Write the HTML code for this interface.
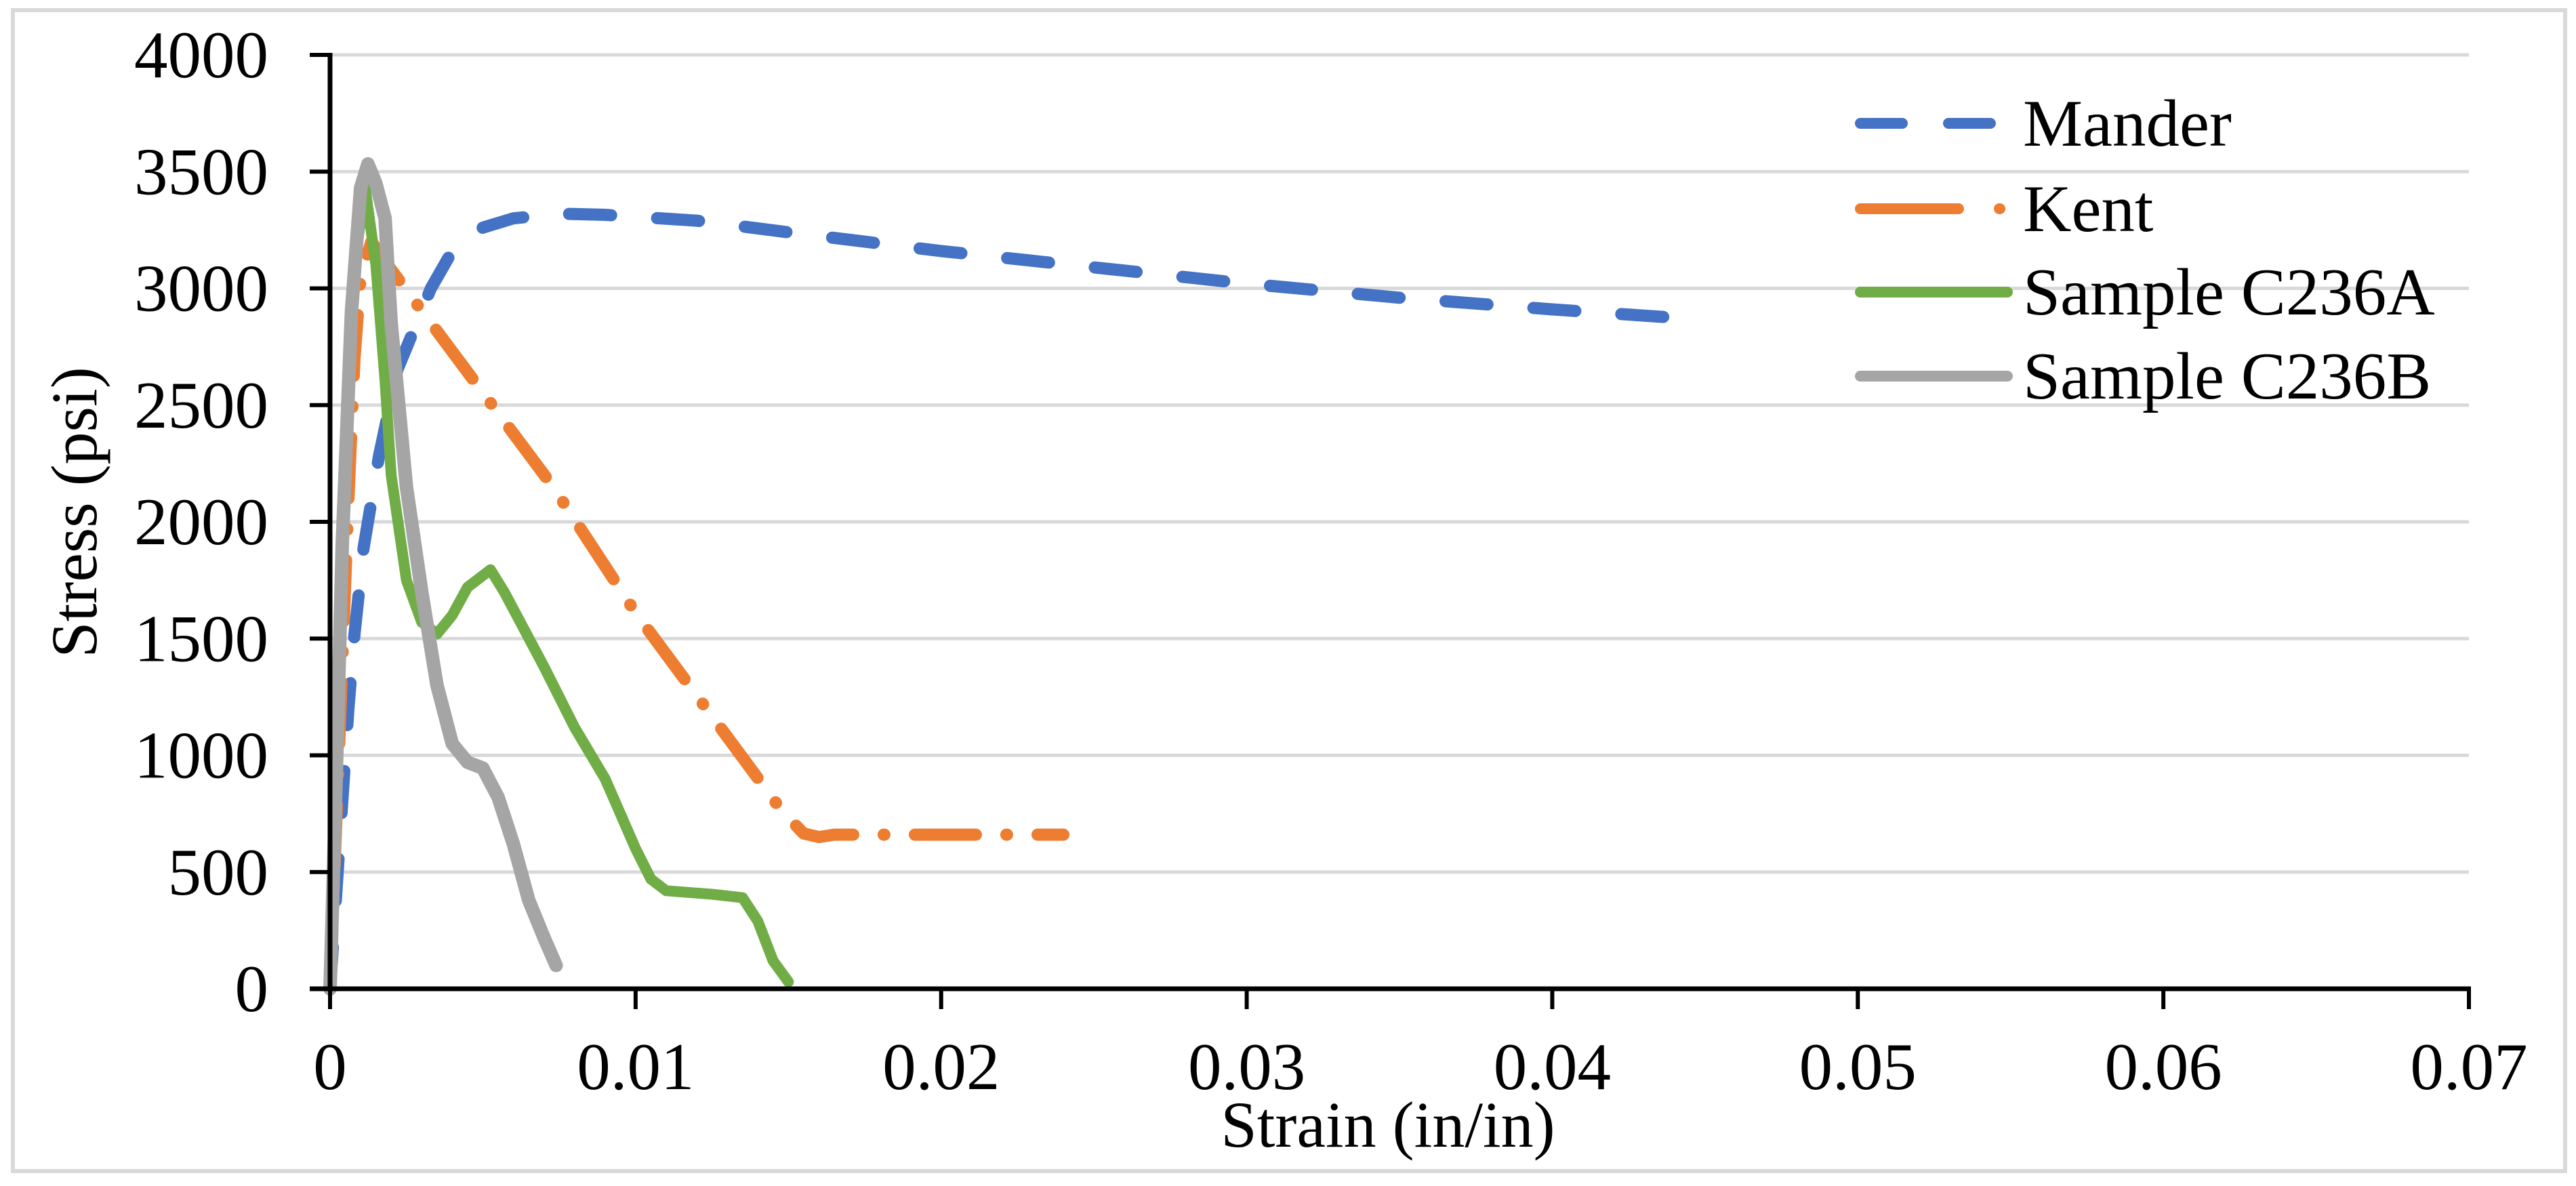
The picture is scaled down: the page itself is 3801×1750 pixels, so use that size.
<!DOCTYPE html>
<html><head><meta charset="utf-8">
<style>
html,body{margin:0;padding:0;background:#fff;}
svg{display:block;}
text{font-family:"Liberation Serif","Times New Roman",serif;fill:#000;}
</style></head>
<body>
<svg id="chart" width="3801" height="1750" viewBox="0 0 3801 1750" xmlns="http://www.w3.org/2000/svg">
<rect x="19" y="15" width="3766" height="1713" fill="#fff" stroke="#d9d9d9" stroke-width="6"/>
<g id="grid"></g>
<g id="series"></g>
<g id="axes"></g>
<text x="2048" y="1692" font-size="96" text-anchor="middle">Strain (in/in)</text>
<text transform="translate(142,756) rotate(-90)" font-size="96" text-anchor="middle">Stress (psi)</text>
<g id="legend"></g>
</svg>
<script>
const xTicks = [0, 0.01, 0.02, 0.03, 0.04, 0.05, 0.06, 0.07];
const xTickLabels = ["0", "0.01", "0.02", "0.03", "0.04", "0.05", "0.06", "0.07"];
const yTicks = [0, 500, 1000, 1500, 2000, 2500, 3000, 3500, 4000];
const yTickLabels = ["0", "500", "1000", "1500", "2000", "2500", "3000", "3500", "4000"];

const manderStrain = [0, 0.0003, 0.0006, 0.0008, 0.0011, 0.0016, 0.0022, 0.0033, 0.004, 0.005, 0.006, 0.0075, 0.009, 0.012, 0.015, 0.02, 0.025, 0.03, 0.035, 0.04, 0.0445];
const manderStress = [0, 600, 1200, 1520, 1890, 2280, 2650, 3000, 3160, 3260, 3300, 3320, 3315, 3290, 3240, 3160, 3090, 3020, 2960, 2910, 2870];

const kentStrain = [0, 0.0002, 0.0004, 0.0006, 0.0008, 0.001, 0.00135, 0.002, 0.0073, 0.01, 0.0148, 0.0155, 0.016, 0.0165, 0.024];
const kentStress = [0, 700, 1400, 2100, 2700, 3050, 3200, 3080, 2150, 1610, 760, 665, 650, 660, 660];

const sampleAStrain = [0, 0.0002, 0.0005, 0.0008, 0.00115, 0.0015, 0.0018, 0.002, 0.0025, 0.003, 0.0035, 0.004, 0.0045, 0.00525, 0.0057, 0.007, 0.008, 0.009, 0.01, 0.0105, 0.011, 0.0125, 0.0135, 0.014, 0.0145, 0.015];
const sampleAStress = [0, 1000, 2200, 3100, 3430, 3100, 2600, 2200, 1750, 1570, 1520, 1600, 1720, 1795, 1700, 1380, 1120, 900, 600, 470, 420, 405, 390, 290, 120, 30];

const sampleBStrain = [0, 0.0002, 0.0004, 0.0007, 0.001, 0.00124, 0.0015, 0.0018, 0.002, 0.0025, 0.003, 0.0035, 0.004, 0.0045, 0.005, 0.0055, 0.006, 0.0065, 0.007, 0.0074];
const sampleBStress = [0, 900, 1900, 2900, 3430, 3533, 3450, 3300, 2850, 2150, 1700, 1300, 1050, 970, 945, 820, 620, 380, 220, 100];

const X0 = 487, X1 = 3643, Y0 = 1459, Y1 = 81;
function xScale(v){ return X0 + v / 0.07 * (X1 - X0); }
function yScale(v){ return Y0 - v / 4000 * (Y0 - Y1); }
const NS = "http://www.w3.org/2000/svg";
function mk(tag, attrs, parent){ const e = document.createElementNS(NS, tag); for (const k in attrs) e.setAttribute(k, attrs[k]); parent.appendChild(e); return e; }

const grid = document.getElementById('grid');
const axes = document.getElementById('axes');
yTicks.forEach((t, i) => {
  if (t > 0) {
    const g = mk('line', {x1: X0, x2: X1, y1: yScale(t), y2: yScale(t), stroke: '#d9d9d9', 'stroke-width': 5}, grid);
    
    
  }
  const tk = mk('line', {x1: X0 - 30, x2: X0, y1: yScale(t), y2: yScale(t), stroke: '#000', 'stroke-width': 6}, axes);
  
  
  const lb = mk('text', {x: 396, y: yScale(t) + 33, 'font-size': 99, 'text-anchor': 'end'}, axes);
  lb.textContent = yTickLabels[i];
  
  
});
xTicks.forEach((t, i) => {
  const tk = mk('line', {x1: xScale(t), x2: xScale(t), y1: Y0, y2: Y0 + 30, stroke: '#000', 'stroke-width': 6}, axes);
  
  
  const lb = mk('text', {x: xScale(t), y: 1607, 'font-size': 99, 'text-anchor': 'middle'}, axes);
  lb.textContent = xTickLabels[i];
  
  
});
const ya = mk('line', {x1: X0, x2: X0, y1: Y1 - 3, y2: Y0 + 3, stroke: '#000', 'stroke-width': 7}, axes);


const xa = mk('line', {x1: X0 - 30, x2: X1 + 3, y1: Y0, y2: Y0, stroke: '#000', 'stroke-width': 7}, axes);



const seriesG = document.getElementById('series');
const series = [
  {name: 'mander', label: 'Mander', xs: manderStrain, ys: manderStress, color: '#4472c4', w: 18, dash: '62 68'},
  {name: 'kent', label: 'Kent', xs: kentStrain, ys: kentStress, color: '#ed7d31', w: 18, dash: '90 45 1 45'},
  {name: 'sample-c236a', label: 'Sample C236A', xs: sampleAStrain, ys: sampleAStress, color: '#70ad47', w: 16, dash: ''},
  {name: 'sample-c236b', label: 'Sample C236B', xs: sampleBStrain, ys: sampleBStress, color: '#a5a5a5', w: 20, dash: ''}
];
const drawOrder = [0, 1, 2, 3];
drawOrder.forEach(i => {
  const s = series[i];
  const d = s.xs.map((x, j) => (j ? 'L' : 'M') + xScale(x).toFixed(1) + ',' + yScale(s.ys[j]).toFixed(1)).join(' ');
  const p = mk('path', {d: d, fill: 'none', stroke: s.color, 'stroke-width': s.w, 'stroke-linecap': 'round', 'stroke-linejoin': 'round'}, seriesG);
  if (s.dash) p.setAttribute('stroke-dasharray', s.dash);
  
  
});

const legend = document.getElementById('legend');
const legY = [182, 308, 431, 555];
series.forEach((s, i) => {
  const y = legY[i];
  const ln = mk('line', {x1: 2745, x2: 2962, y1: y, y2: y, stroke: s.color, 'stroke-width': 16, 'stroke-linecap': 'round'}, legend);
  if (s.name === 'mander') ln.setAttribute('stroke-dasharray', '62 68');
  if (s.name === 'kent') ln.setAttribute('stroke-dasharray', '145 60 1 60');
  
  
  const t = mk('text', {x: 2985, y: y + 33, 'font-size': 99}, legend);
  t.textContent = s.label;
  
  
});
</script>
</body></html>
